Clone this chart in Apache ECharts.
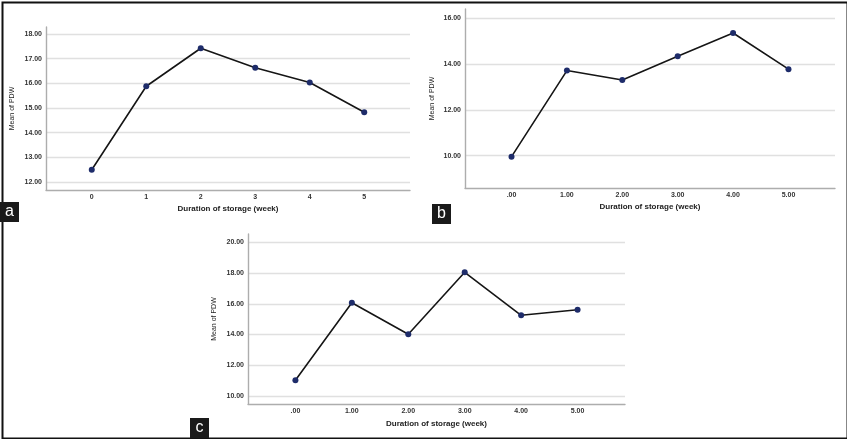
<!DOCTYPE html>
<html>
<head>
<meta charset="utf-8">
<style>html,body{margin:0;padding:0;background:#fff}#c{width:847px;height:439px}</style>
<script src="https://cdn.jsdelivr.net/npm/echarts@6/dist/echarts.min.js"></script>
</head>
<body>
<div id="c"></div>
<script>
// Data
const weeks = [0, 1, 2, 3, 4, 5];
const xLabelsA = ['0', '1', '2', '3', '4', '5'];
const xLabelsBC = ['.00', '1.00', '2.00', '3.00', '4.00', '5.00'];
const pdwA = [12.50, 15.88, 17.42, 16.63, 16.03, 14.83];
const pdwB = [9.96, 13.72, 13.31, 14.35, 15.36, 13.78];
const pdwC = [11.02, 16.07, 14.02, 18.05, 15.25, 15.61];
const yTicksA = [12, 13, 14, 15, 16, 17, 18];
const yTicksB = [10, 12, 14, 16];
const yTicksC = [10, 12, 14, 16, 18, 20];
const xTitle = 'Duration of storage (week)';
const yTitle = 'Mean of PDW';

const chart = echarts.init(document.getElementById('c'), null, {renderer: 'canvas'});
const FONT = 'Liberation Sans, Arial, sans-serif';

function xAxis(gridIndex, labels, gap) {
  return {
    type: 'value', gridIndex, min: -0.84, max: 5.84,
    name: xTitle, nameLocation: 'middle', nameGap: gap,
    nameTextStyle: {fontSize: 8, fontWeight: 'bold', color: '#222', fontFamily: FONT},
    axisLine: {show: true, onZero: false, lineStyle: {color: '#adadad', width: 1.4}},
    axisTick: {show: false, customValues: weeks},
    axisLabel: {customValues: weeks, margin: 4, fontSize: 7, fontWeight: 'bold', color: '#333', fontFamily: FONT,
      formatter: v => labels[Math.round(v)]},
    splitLine: {show: false}
  };
}
function yAxis(gridIndex, min, max, ticks, gap) {
  return {
    type: 'value', gridIndex, min, max,
    name: yTitle, nameLocation: 'middle', nameGap: gap,
    nameTextStyle: {fontSize: 7, color: '#222', fontFamily: FONT},
    axisLine: {show: true, onZero: false, lineStyle: {color: '#adadad', width: 1.4}},
    axisTick: {show: false, customValues: ticks},
    axisLabel: {customValues: ticks, margin: 4, fontSize: 7, fontWeight: 'bold', color: '#333', fontFamily: FONT,
      formatter: v => v.toFixed(2)},
    splitLine: {show: true, lineStyle: {color: '#e0e0e0', width: 1.4}}
  };
}
function series(i, vals) {
  return {
    type: 'line', xAxisIndex: i, yAxisIndex: i,
    data: weeks.map((w, k) => [w, vals[k]]),
    symbol: 'circle', symbolSize: 6,
    lineStyle: {color: '#151515', width: 1.6},
    itemStyle: {color: '#1e2c6a'},
    animation: false
  };
}
function tag(letter, x, y) {
  return {
    type: 'group', left: x, top: y,
    children: [
      {type: 'rect', shape: {x: 0, y: 0, width: 19, height: 20}, style: {fill: '#1a1a1a'}},
      {type: 'text', x: 9.5, y: 10, style: {text: letter, fill: '#fff', font: '16px ' + FONT, align: 'center', verticalAlign: 'middle'}}
    ]
  };
}

chart.setOption({
  animation: false,
  backgroundColor: '#fff',
  grid: [
    {left: 46, top: 27, width: 364, height: 163},
    {left: 465, top: 9, width: 370, height: 179},
    {left: 248, top: 234, width: 377, height: 170}
  ],
  xAxis: [xAxis(0, xLabelsA, 15), xAxis(1, xLabelsBC, 15), xAxis(2, xLabelsBC, 16)],
  yAxis: [
    yAxis(0, 11.68, 18.28, yTicksA, 30),
    yAxis(1, 8.59, 16.41, yTicksB, 29),
    yAxis(2, 9.48, 20.54, yTicksC, 30)
  ],
  series: [series(0, pdwA), series(1, pdwB), series(2, pdwC)],
  graphic: [
    {type: 'rect', left: 0, top: 0, shape: {x: 1, y: 1, width: 845, height: 436}, style: {fill: 'none', stroke: '#111', lineWidth: 2}},
    tag('a', 0, 202),
    tag('b', 432, 204),
    tag('c', 190, 418)
  ]
});
</script>
</body>
</html>
